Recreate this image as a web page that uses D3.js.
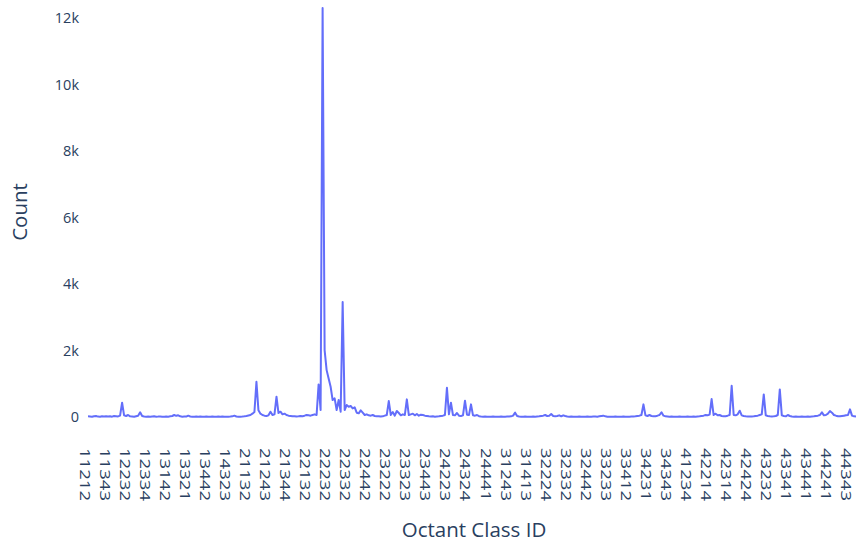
<!DOCTYPE html>
<html lang="en">

<head>
    <meta charset="utf-8">
    <title>Octant Class ID counts</title>
    <script src="https://cdn.jsdelivr.net/npm/d3@7"></script>
    <style>
        body { margin: 0; background: #fff; }
        text { font-family: "Open Sans", verdana, arial, sans-serif; fill: #2a3f5f; }
    </style>
</head>

<body>
    <script type="text/javascript">
        // octant class ids present in the data (x categories)
        var categories = [
            "11212", "11213", "11214", "11221", "11234", "11241", "11312", "11321", "11323", "11334",
            "11343", "11344", "11412", "11423", "11432", "11441", "12121", "12132", "12212", "12223",
            "12232", "12233", "12234", "12241", "12243", "12312", "12321", "12323", "12324", "12332",
            "12334", "12341", "12343", "12412", "12421", "12432", "12441", "13112", "13121", "13132",
            "13142", "13143", "13212", "13221", "13223", "13232", "13234", "13241", "13312", "13314",
            "13321", "13323", "13324", "13332", "13334", "13341", "13412", "13421", "13423", "13432",
            "13442", "13443", "14121", "14132", "14212", "14221", "14232", "14241", "14312", "14321",
            "14323", "14332", "14341", "14412", "14423", "14432", "21112", "21121", "21123", "21124",
            "21132", "21134", "21141", "21143", "21212", "21214", "21221", "21223", "21232", "21241",
            "21243", "21244", "21312", "21314", "21321", "21323", "21324", "21332", "21334", "21341",
            "21344", "21412", "21421", "21423", "21432", "21441", "22112", "22121", "22123", "22124",
            "22132", "22133", "22134", "22141", "22143", "22212", "22214", "22221", "22223", "22224",
            "22232", "22233", "22234", "22241", "22243", "22312", "22314", "22321", "22323", "22324",
            "22332", "22333", "22334", "22341", "22343", "22412", "22421", "22423", "22432", "22434",
            "22442", "22443", "22444", "23121", "23132", "23134", "23141", "23212", "23214", "23221",
            "23222", "23223", "23224", "23232", "23234", "23241", "23243", "23312", "23314", "23321",
            "23323", "23324", "23332", "23334", "23341", "23412", "23421", "23423", "23432", "23441",
            "23443", "23444", "24121", "24123", "24132", "24134", "24141", "24212", "24214", "24221",
            "24223", "24224", "24232", "24234", "24241", "24243", "24312", "24314", "24321", "24323",
            "24324", "24332", "24334", "24341", "24343", "24412", "24414", "24421", "24423", "24432",
            "24441", "24443", "31121", "31132", "31141", "31212", "31214", "31221", "31232", "31241",
            "31243", "31244", "31312", "31314", "31321", "31323", "31332", "31341", "31343", "31412",
            "31413", "31414", "31421", "31432", "31441", "32121", "32132", "32141", "32212", "32221",
            "32224", "32232", "32234", "32241", "32243", "32312", "32314", "32321", "32323", "32324",
            "32332", "32334", "32341", "32343", "32412", "32414", "32421", "32423", "32432", "32441",
            "32442", "32443", "33121", "33132", "33141", "33212", "33214", "33221", "33223", "33232",
            "33233", "33234", "33241", "33243", "33312", "33321", "33323", "33332", "33341", "33343",
            "33412", "33414", "33421", "33432", "33441", "34121", "34132", "34141", "34212", "34221",
            "34231", "34232", "34234", "34241", "34243", "34312", "34321", "34323", "34332", "34341",
            "34343", "34412", "34421", "34432", "34441", "41121", "41132", "41212", "41221", "41232",
            "41234", "41241", "41312", "41323", "41341", "41412", "41432", "42121", "42132", "42212",
            "42214", "42221", "42223", "42224", "42232", "42234", "42241", "42243", "42312", "42313",
            "42314", "42321", "42323", "42332", "42334", "42341", "42343", "42412", "42414", "42421",
            "42424", "42432", "42441", "42443", "43121", "43132", "43141", "43212", "43221", "43223",
            "43232", "43234", "43241", "43243", "43312", "43314", "43321", "43323", "43332", "43334",
            "43341", "43342", "43343", "43344", "43412", "43414", "43421", "43423", "43432", "43434",
            "43441", "43443", "44121", "44132", "44141", "44212", "44214", "44221", "44223", "44232",
            "44241", "44243", "44312", "44314", "44321", "44323", "44332", "44334", "44341", "44342",
            "44343", "44412", "44421", "44432"
        ];

        // count per class id, same order as categories
        var counts = [
            20, 15, 10, 25, 30, 12, 8, 20, 18, 25,
            15, 20, 10, 30, 25, 18, 40, 430, 50, 30,
            60, 20, 15, 10, 25, 40, 140, 30, 15, 10,
            12, 8, 15, 20, 10, 12, 18, 10, 8, 15,
            10, 20, 30, 60, 35, 50, 20, 10, 15, 12,
            40, 15, 10, 8, 12, 10, 15, 8, 10, 12,
            8, 10, 15, 10, 8, 12, 10, 15, 10, 8,
            10, 12, 20, 40, 15, 10, 8, 12, 20, 30,
            45, 60, 100, 150, 1060, 200, 100, 60, 40, 30,
            50, 160, 60, 80, 610, 120, 160, 80, 100, 60,
            40, 30, 20, 25, 15, 20, 30, 25, 40, 60,
            50, 40, 60, 80, 60, 980, 210, 12300, 2010, 1410,
            1160, 910, 510, 560, 210, 510, 160, 3460, 210, 360,
            310, 330, 260, 290, 130, 110, 200, 130, 60, 80,
            50, 40, 60, 30, 20, 25, 15, 20, 40, 60,
            480, 60, 150, 40, 180, 120, 50, 80, 60, 530,
            60, 80, 100, 50, 90, 40, 70, 60, 40, 30,
            20, 15, 20, 10, 15, 20, 30, 40, 60, 880,
            80, 430, 60, 50, 120, 40, 30, 50, 490, 70,
            60, 380, 50, 40, 60, 25, 15, 10, 12, 8,
            10, 8, 12, 10, 8, 10, 12, 8, 10, 12,
            15, 20, 40, 130, 30, 15, 10, 8, 12, 10,
            8, 10, 12, 10, 15, 20, 30, 40, 60, 30,
            40, 90, 30, 20, 30, 50, 20, 50, 30, 15,
            10, 12, 8, 10, 8, 12, 10, 8, 10, 12,
            8, 10, 12, 15, 10, 20, 30, 40, 20, 10,
            8, 10, 8, 12, 10, 8, 10, 12, 8, 10,
            10, 12, 15, 20, 30, 40, 60, 380, 50, 30,
            60, 30, 20, 25, 40, 60, 140, 40, 20, 15,
            10, 12, 8, 10, 8, 12, 10, 8, 10, 12,
            8, 10, 12, 10, 15, 20, 30, 40, 60, 50,
            70, 540, 60, 100, 50, 60, 30, 20, 25, 40,
            60, 940, 60, 50, 80, 190, 50, 30, 20, 15,
            12, 15, 20, 30, 40, 60, 80, 680, 50, 30,
            20, 15, 20, 30, 60, 830, 50, 30, 20, 60,
            30, 15, 10, 12, 8, 10, 12, 10, 8, 12,
            10, 15, 20, 30, 40, 60, 140, 50, 60, 100,
            180, 130, 60, 40, 25, 20, 30, 40, 50, 60,
            230, 40, 20, 15
        ];

        // labelled categories on the x axis (every 10th)
        var tickLabels = [
            "11212", "11343", "12232", "12334", "13142", "13321", "13442", "14323",
            "21132", "21243", "21344", "22132", "22232", "22332", "22442", "23222",
            "23323", "23443", "24223", "24324", "24441", "31243", "31413", "32224",
            "32332", "32442", "33233", "33412", "34231", "34343", "41234", "42214",
            "42314", "42424", "43232", "43341", "43441", "44241", "44343"
        ];
        var yTicks = [0, 2000, 4000, 6000, 8000, 10000, 12000];

        var width = 857;
        var height = 547;
        var margin = { left: 88, right: 1, top: 8, bottom: 130 };

        var svg = d3.select("body").append("svg")
            .attr("width", width)
            .attr("height", height);

        var x = d3.scalePoint()
            .domain(categories)
            .range([margin.left, width - margin.right]);

        var y = d3.scaleLinear()
            .domain([0, d3.max(counts)])
            .range([height - margin.bottom, margin.top]);

        var data = categories.map(function (c, i) { return { id: c, count: counts[i] }; });

        // y axis labels
        var yAxis = svg.append("g")
            .attr("transform", "translate(" + margin.left + ",0)")
            .call(d3.axisLeft(y).tickValues(yTicks).tickSize(0).tickPadding(9)
                .tickFormat(function (d) { return d === 0 ? "0" : (d / 1000) + "k"; }));
        yAxis.select(".domain").remove();
        yAxis.selectAll("text")
            .style("font-size", "14.5px")
            .attr("fill", "#2a3f5f");

        // x axis labels, rotated (stretched along the reading direction like the original)
        var xAxis = svg.append("g")
            .attr("transform", "translate(0," + (height - margin.bottom) + ")")
            .call(d3.axisBottom(x).tickValues(tickLabels).tickSize(0));
        xAxis.select(".domain").remove();
        xAxis.selectAll("text")
            .style("font-size", "14.5px")
            .attr("fill", "#2a3f5f")
            .attr("text-anchor", "start")
            .attr("transform", "rotate(90)scale(1.28,1)")
            .attr("x", 31 / 1.28)
            .attr("y", 0)
            .attr("dy", "0.62em");

        var line = d3.line()
            .x(function (d) { return x(d.id); })
            .y(function (d) { return y(d.count); });

        svg.append("path")
            .datum(data)
            .attr("d", line)
            .attr("fill", "none")
            .attr("stroke", "#636efa")
            .attr("stroke-width", 2)
            .attr("stroke-linejoin", "round");

        svg.append("text")
            .attr("transform", "translate(27,212)rotate(-90)")
            .attr("text-anchor", "middle")
            .style("font-size", "20.5px")
            .text("Count");

        svg.append("text")
            .attr("x", 474)
            .attr("y", 537)
            .attr("text-anchor", "middle")
            .style("font-size", "20.5px")
            .text("Octant Class ID");
    </script>
</body>

</html>
